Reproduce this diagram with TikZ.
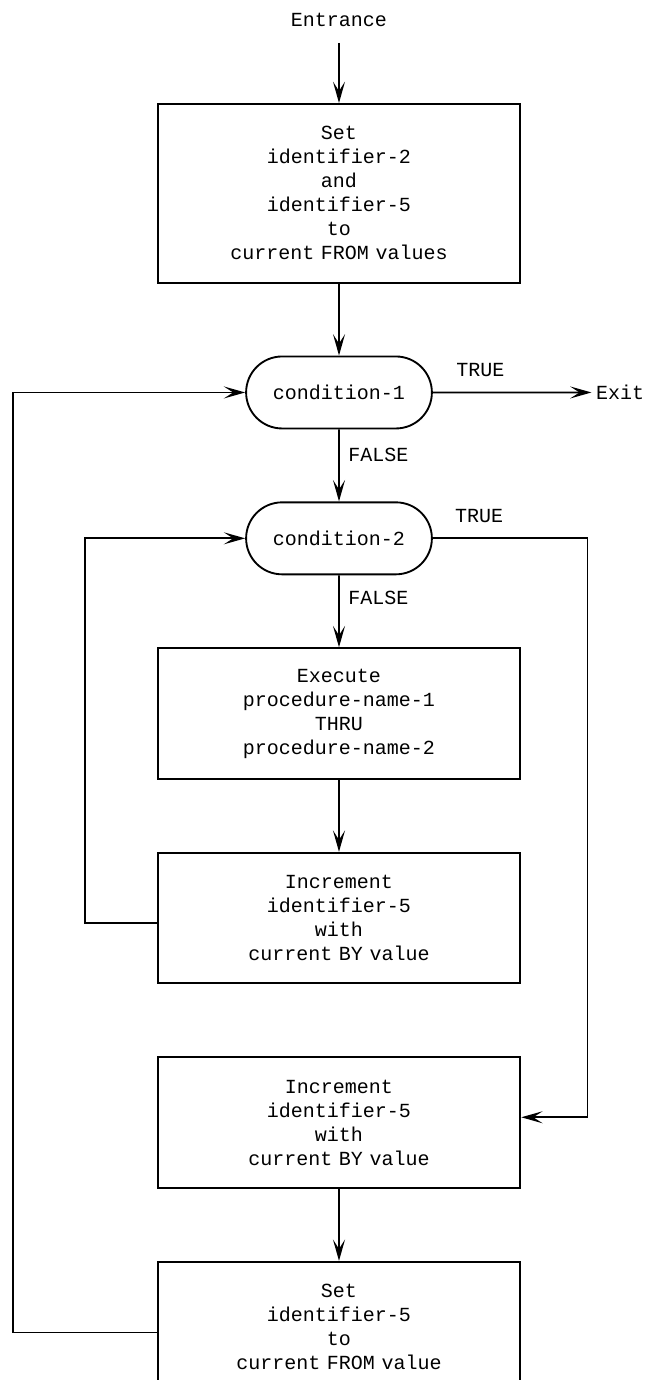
\documentclass[tikz,border=0pt]{standalone}
\usepackage{fontspec}
\setmainfont{Liberation Mono}
\usetikzlibrary{shapes.misc, arrows.meta, positioning}
\tikzset{
    block/.style={rectangle, draw, line width=1.4pt, minimum width=272pt,
        text width=260pt, minimum height=98pt, align=center,
        font=\fontsize{15}{18}\selectfont},
    bigblock/.style={block, minimum height=134pt},
    decision/.style={rounded rectangle, draw, line width=1.4pt,
        minimum width=146pt, minimum height=54pt, font=\fontsize{15}{18}\selectfont},
    term/.style={font=\fontsize{15}{18}\selectfont},
    arrow/.style={-{Stealth[length=16pt, width=9pt, inset=7pt]}, line width=1.4pt}
}

\begin{document}
\begin{tikzpicture}[node distance=54pt]

    \useasboundingbox (-254.25pt,77.25pt) rectangle (234.75pt,-957.75pt);

    \node[bigblock, anchor=north] (setboth) at (0,0) {Set\\identifier-2\\and\\identifier-5\\to\\current FROM values};
    \node[term, above=54pt of setboth] (entrance) {Entrance};

    \node[decision, below=of setboth] (cond1) {condition-1};
    \node[decision, below=of cond1] (cond2) {condition-2};
    \node[term, right=119pt of cond1] (exit) {Exit};

    \node[block, below=of cond2] (execute) {Execute\\procedure-name-1\\THRU\\procedure-name-2};
    \node[block, below=of execute] (incinner) {Increment\\identifier-5\\with\\current BY value};
    \node[block, below=of incinner] (incouter) {Increment\\identifier-5\\with\\current BY value};
    \node[block, below=of incouter] (reset) {Set\\identifier-5\\to\\current FROM value};

    \draw[arrow, shorten <=9pt] (entrance) -- (setboth);
    \draw[arrow] (setboth) -- (cond1);
    \draw[arrow] (cond1) -- node[term, above=8pt, pos=0.3]{TRUE} (exit);
    \draw[arrow] (cond1) -- node[term, right=3pt, pos=0.35]{FALSE} (cond2);
    \draw[arrow] (cond2) -- node[term, right=3pt, pos=0.32]{FALSE} (execute);
    \draw[arrow] (execute) -- (incinner);
    \draw[arrow] (incouter) -- (reset);

    % loops back
    \draw[arrow] ([yshift=-4pt]incinner.west) -- ++(-54pt,0) |- (cond2.west);
    \draw[arrow] ([yshift=-4pt]reset.west) -- ++(-108pt,0) |- (cond1.west);
    \draw[arrow] (cond2.east) -- node[term, above=8pt, pos=0.3]{TRUE} ++(116pt,0) |- ([yshift=4pt]incouter.east);

\end{tikzpicture}
\end{document}
